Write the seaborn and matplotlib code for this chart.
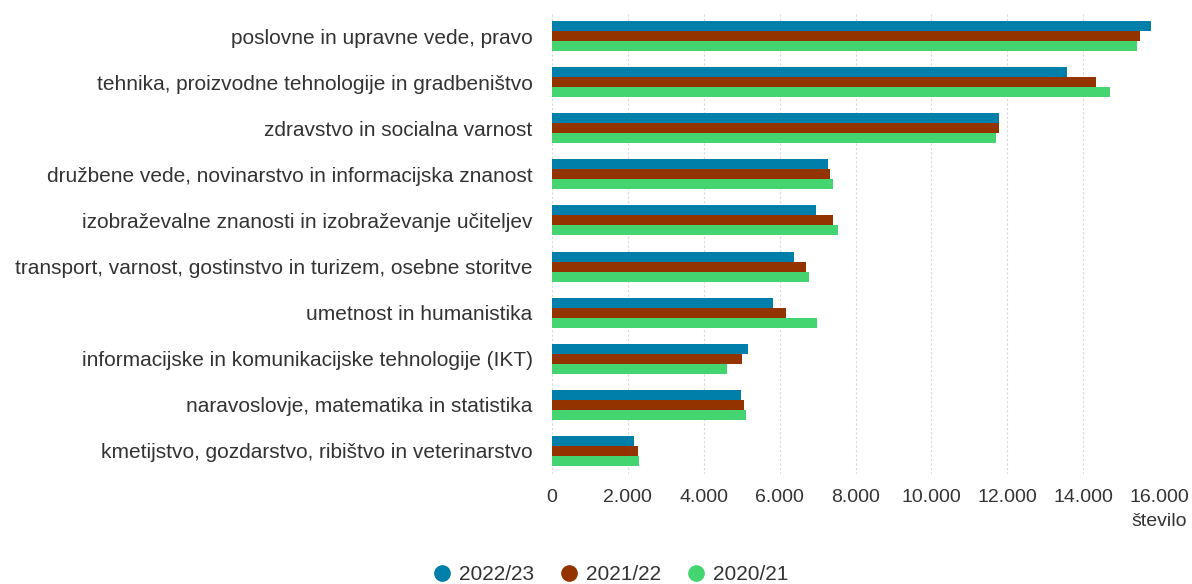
import matplotlib
matplotlib.use("Agg")
import matplotlib.pyplot as plt
from matplotlib.lines import Line2D
from matplotlib.ticker import FuncFormatter
import seaborn as sns
import pandas as pd

categories = [
    "poslovne in upravne vede, pravo",
    "tehnika, proizvodne tehnologije in gradbeništvo",
    "zdravstvo in socialna varnost",
    "družbene vede, novinarstvo in informacijska znanost",
    "izobraževalne znanosti in izobraževanje učiteljev",
    "transport, varnost, gostinstvo in turizem, osebne storitve",
    "umetnost in humanistika",
    "informacijske in komunikacijske tehnologije (IKT)",
    "naravoslovje, matematika in statistika",
    "kmetijstvo, gozdarstvo, ribištvo in veterinarstvo",
]
years = ["2022/23", "2021/22", "2020/21"]
v_2022_23 = [15790, 13570, 11770, 7270, 6970, 6370, 5830, 5160, 4980, 2150]
v_2021_22 = [15510, 14330, 11790, 7320, 7400, 6700, 6170, 5020, 5060, 2280]
v_2020_21 = [15430, 14720, 11700, 7410, 7540, 6770, 6980, 4620, 5110, 2290]
colors = ["#007fab", "#933400", "#44d571"]

rows = []
for yr, vals in zip(years, [v_2022_23, v_2021_22, v_2020_21]):
    for c, v in zip(categories, vals):
        rows.append({"kategorija": c, "leto": yr, "stevilo": v})
df = pd.DataFrame(rows)

sns.set_theme(style="white")
plt.rcParams["font.family"] = ["Liberation Sans", "DejaVu Sans"]
text_color = "#333333"

fig = plt.figure(figsize=(11.92, 5.84), dpi=100)
ax = fig.add_axes([552 / 1192, 1 - 474 / 584, (1159 - 552) / 1192, (474 - 13) / 584])

sns.barplot(data=df, y="kategorija", x="stevilo", hue="leto", order=categories,
            hue_order=years, palette=colors, orient="h", width=0.65, gap=0,
            saturation=1, edgecolor="none", linewidth=0, ax=ax, legend=False)

ax.set_xlim(0, 16000)
ax.set_ylim(len(categories) - 0.5, -0.5)
ax.set_xticks(range(0, 16001, 2000))
ax.xaxis.set_major_formatter(FuncFormatter(lambda x, p: f"{int(x):,}".replace(",", ".")))
ax.grid(axis="x", color="#d9d9d9", linestyle=(0, (2, 2)), linewidth=0.8)
ax.grid(axis="y", visible=False)
ax.set_axisbelow(True)
for s in ax.spines.values():
    s.set_visible(False)
ax.set_xlabel("")
ax.set_ylabel("")
ax.tick_params(axis="y", length=0, pad=14, labelsize=15, labelcolor=text_color)
ax.tick_params(axis="x", length=0, pad=11, labelsize=14, labelcolor=text_color)

fig.text(1187 / 1192, 1 - 521 / 584, "število", ha="right", va="center",
         fontsize=14, color=text_color)

handles = [Line2D([], [], marker="o", linestyle="none", markersize=11,
                  markerfacecolor=c, markeredgecolor=c) for c in colors]
fig.legend(handles, years, loc="center", bbox_to_anchor=(611 / 1192, 1 - 575 / 584),
           ncol=3, frameon=False, fontsize=15, handlelength=0.8, handletextpad=0.44,
           columnspacing=1.25, labelcolor=text_color, borderpad=0, borderaxespad=0)

fig.savefig("out.png", dpi=100)
